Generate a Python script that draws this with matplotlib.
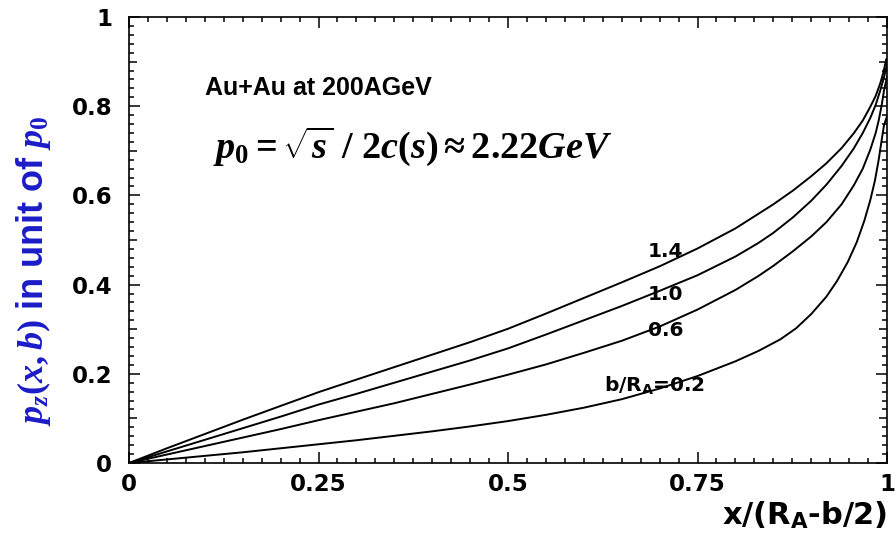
import matplotlib
matplotlib.use("Agg")
import matplotlib.pyplot as plt
from matplotlib.ticker import MultipleLocator

plt.rcParams['mathtext.fontset'] = 'custom'
plt.rcParams['mathtext.rm'] = 'Liberation Serif:bold'
plt.rcParams['mathtext.it'] = 'Liberation Serif:bold:italic'
plt.rcParams['mathtext.bf'] = 'Liberation Serif:bold'
plt.rcParams['mathtext.sf'] = 'DejaVu Sans:bold'

# curves, b/R_A = 1.4, 1.0, 0.6, 0.2
x_14 = [0, 0.05, 0.1, 0.15, 0.2, 0.252, 0.3, 0.35, 0.4, 0.45, 0.5, 0.55, 0.6, 0.65, 0.7, 0.75,
        0.8, 0.85, 0.876, 0.9, 0.92, 0.94, 0.956, 0.968, 0.978, 0.985, 0.991, 0.995, 0.999]
y_14 = [0, 0.033, 0.065, 0.097, 0.128, 0.160, 0.187, 0.215, 0.243, 0.271, 0.301, 0.335, 0.370, 0.405, 0.441, 0.481,
        0.526, 0.580, 0.611, 0.643, 0.672, 0.706, 0.739, 0.768, 0.799, 0.823, 0.851, 0.875, 0.905]

x_10 = [0, 0.05, 0.1, 0.15, 0.2, 0.25, 0.3, 0.35, 0.4, 0.45, 0.5, 0.55, 0.6, 0.65, 0.7, 0.75,
        0.8, 0.83, 0.85, 0.876, 0.9, 0.92, 0.94, 0.956, 0.968, 0.978, 0.985, 0.991, 0.996, 1.0]
y_10 = [0, 0.026, 0.052, 0.078, 0.104, 0.131, 0.155, 0.180, 0.205, 0.230, 0.257, 0.288, 0.320, 0.352, 0.386, 0.421,
        0.463, 0.493, 0.516, 0.551, 0.588, 0.624, 0.666, 0.705, 0.740, 0.774, 0.803, 0.835, 0.865, 0.893]

x_06 = [0, 0.05, 0.1, 0.15, 0.2, 0.25, 0.3, 0.35, 0.4, 0.45, 0.5, 0.55, 0.6, 0.65, 0.7, 0.75,
        0.8, 0.83, 0.85, 0.876, 0.9, 0.92, 0.94, 0.956, 0.968, 0.978, 0.985, 0.989, 0.993, 0.996, 1.0]
y_06 = [0, 0.019, 0.038, 0.057, 0.076, 0.096, 0.115, 0.134, 0.155, 0.176, 0.198, 0.221, 0.247, 0.274, 0.306, 0.344,
        0.388, 0.419, 0.442, 0.475, 0.508, 0.540, 0.580, 0.622, 0.660, 0.703, 0.740, 0.768, 0.803, 0.835, 0.866]

x_02 = [0, 0.05, 0.1, 0.15, 0.2, 0.25, 0.3, 0.35, 0.4, 0.45, 0.5, 0.55, 0.6, 0.65, 0.7, 0.75,
        0.8, 0.83, 0.859, 0.88, 0.9, 0.92, 0.934, 0.948, 0.96, 0.97, 0.978, 0.984, 0.989, 0.993, 0.996, 1.0]
y_02 = [0, 0.008, 0.016, 0.024, 0.033, 0.042, 0.051, 0.061, 0.071, 0.082, 0.094, 0.108, 0.124, 0.143, 0.167, 0.195,
        0.228, 0.251, 0.277, 0.302, 0.334, 0.373, 0.408, 0.450, 0.495, 0.543, 0.590, 0.633, 0.680, 0.725, 0.757, 0.778]

curve_labels = ['1.4', '1.0', '0.6', r'b/R$_{\mathsf{A}}$=0.2']
label_pos = [(0.707, 0.474), (0.708, 0.378), (0.708, 0.298), (0.693, 0.175)]

xticks = [0, 0.25, 0.5, 0.75, 1]
xtick_labels = ['0', '0.25', '0.5', '0.75', '1']
yticks = [0, 0.2, 0.4, 0.6, 0.8, 1]
ytick_labels = ['0', '0.2', '0.4', '0.6', '0.8', '1']

fig = plt.figure(figsize=(8.96, 5.38), dpi=100)
ax = fig.add_axes([0.144, 0.1394, 0.846, 0.829])

for xs, ys in [(x_14, y_14), (x_10, y_10), (x_06, y_06), (x_02, y_02)]:
    ax.plot(xs, ys, color='black', lw=1.4)

for txt, (tx, ty) in zip(curve_labels, label_pos):
    ax.text(tx, ty, txt, ha='center', va='center', fontsize=14.5,
            fontweight='bold', family='DejaVu Sans')

ax.text(0.10, 0.841, 'Au+Au at 200AGeV', transform=ax.transAxes, fontsize=18,
        fontweight='bold', family=['Liberation Sans Narrow', 'Liberation Sans'],
        va='center', ha='left')
ax.text(0.111, 0.684, r'$p_0 = \sqrt{s}\ /\ 2c(s) \approx 2.22GeV$', transform=ax.transAxes,
        fontsize=27.5, va='baseline', ha='left')

ax.set_xlim(0, 1)
ax.set_ylim(0, 1)
ax.set_xticks(xticks)
ax.set_xticklabels(xtick_labels)
ax.set_yticks(yticks)
ax.set_yticklabels(ytick_labels)
ax.xaxis.set_minor_locator(MultipleLocator(0.025))
ax.yaxis.set_minor_locator(MultipleLocator(0.02))
ax.tick_params(which='both', direction='in', top=True, right=True, width=1.1)
ax.tick_params(which='major', length=8)
ax.tick_params(which='minor', length=3.5)
ax.tick_params(axis='x', which='major', pad=7)
ax.tick_params(axis='y', which='major', pad=12)
for lab in ax.get_xticklabels() + ax.get_yticklabels():
    lab.set_fontsize(16.5)
    lab.set_fontweight('bold')
    lab.set_family('DejaVu Sans')

# medium ticks at 0.1 on the y axis
ylocs = ax.yaxis.get_minorticklocs()
for loc, t in zip(ylocs, ax.yaxis.get_minor_ticks(len(ylocs))):
    if abs(loc * 10 - round(loc * 10)) < 1e-6:
        t.tick1line.set_markersize(5.5)
        t.tick2line.set_markersize(5.5)

for sp in ax.spines.values():
    sp.set_linewidth(1.2)

ax.set_xlabel(r'x/(R$_{\mathsf{A}}$-b/2)', fontsize=22, fontweight='bold',
              family='DejaVu Sans', loc='right', labelpad=3)
ax.set_ylabel(r'$p_z(x,b)$ in unit of $p_0$', fontsize=26, fontweight='bold',
              family='Liberation Sans', color='#1c1cc8')
ax.yaxis.set_label_coords(-0.10, 0.43)

fig.savefig('out.png', dpi=100)
